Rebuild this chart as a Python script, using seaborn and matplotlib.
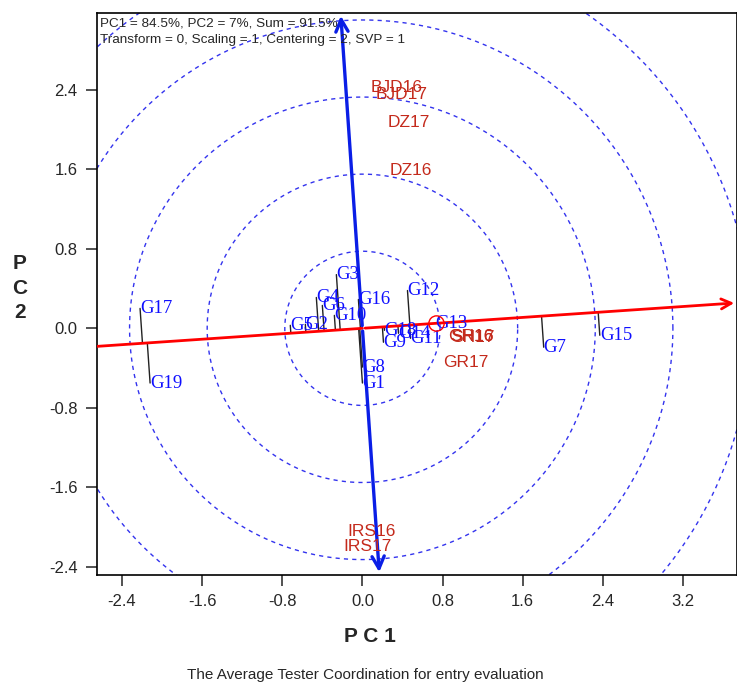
import numpy as np
import pandas as pd
import matplotlib
matplotlib.use("Agg")
import matplotlib.pyplot as plt
import seaborn as sns

# genotype scores (PC1, PC2)
genotypes = ["G1", "G2", "G3", "G4", "G5", "G6", "G7", "G8", "G9", "G10",
             "G11", "G12", "G13", "G14", "G15", "G16", "G17", "G18", "G19"]
g_pc1 = [0.00, -0.57, -0.26, -0.46, -0.72, -0.40, 1.81, 0.00, 0.21, -0.28,
         0.48, 0.45, 0.73, 0.36, 2.37, -0.04, -2.22, 0.22, -2.12]
g_pc2 = [-0.55, 0.04, 0.54, 0.31, 0.03, 0.23, -0.19, -0.39, -0.14, 0.13,
         -0.10, 0.38, 0.05, -0.05, -0.07, 0.29, 0.20, -0.02, -0.55]

# environment (tester) scores
environments = ["BJD16", "BJD17", "DZ17", "DZ16", "GR17", "GR16", "SH17", "SH16", "IRS16", "IRS17"]
e_pc1 = [0.08, 0.13, 0.25, 0.27, 0.81, 0.86, 0.89, 0.88, -0.15, -0.19]
e_pc2 = [2.42, 2.35, 2.07, 1.59, -0.34, -0.08, -0.09, -0.08, -2.04, -2.19]

# average environment coordinate
aec = [0.73, 0.05]
circle_radii = [0.775, 1.55, 2.325, 3.10, 3.875]

summary = ["PC1 = 84.5%, PC2 = 7%, Sum = 91.5%",
           "Transform = 0, Scaling = 1, Centering = 2, SVP = 1"]

sns.set_style("ticks")
plt.rcParams["font.family"] = ["Liberation Sans", "DejaVu Sans"]

fig = plt.figure(figsize=(7.37, 6.87), dpi=100)
ax = fig.add_axes([97 / 737, 1 - 575 / 687, 640 / 737, 562 / 687])
xlim = (-2.65, 3.74)
ylim = (-2.48, 3.17)

# concentric circles
t = np.linspace(0, 2 * np.pi, 400)
for r in circle_radii:
    cdf = pd.DataFrame({"x": r * np.cos(t), "y": r * np.sin(t)})
    sns.lineplot(data=cdf, x="x", y="y", sort=False, estimator=None, errorbar=None,
                 ax=ax, color="#3333ee", lw=1.0, linestyle=(0, (3, 3)), zorder=1)

# ATC abscissa (red) and ordinate (blue)
d = np.array(aec) / np.hypot(*aec)
p = np.array([-d[1], d[0]])
ax.plot([xlim[0], 0], [xlim[0] * d[1] / d[0], 0], color="red", lw=2, zorder=3)
ax.annotate("", xy=(xlim[1], xlim[1] * d[1] / d[0]), xytext=(0, 0),
            arrowprops=dict(arrowstyle="->", color="red", lw=2, mutation_scale=18),
            zorder=3, annotation_clip=False)
for yy in ylim:
    ax.annotate("", xy=(yy * p[0] / p[1], yy), xytext=(0, 0),
                arrowprops=dict(arrowstyle="->", color="#0a1ee6", lw=2.4, mutation_scale=22),
                zorder=4, annotation_clip=False)

# projections of genotypes onto ATC abscissa
gdf = pd.DataFrame({"name": genotypes, "x": g_pc1, "y": g_pc2})
for _, row in gdf.iterrows():
    s = row.x * d[0] + row.y * d[1]
    ax.plot([row.x, s * d[0]], [row.y, s * d[1]], color="#222222", lw=1.0, zorder=2)
    ax.text(row.x, row.y, row["name"], color="#1010ff", fontsize=13.5,
            family="Liberation Serif", ha="left", va="center", zorder=5)

edf = pd.DataFrame({"name": environments, "x": e_pc1, "y": e_pc2})
for _, row in edf.iterrows():
    ax.text(row.x, row.y, row["name"], color="#c42a1c", fontsize=12.5,
            ha="left", va="center", zorder=5)

ax.plot(aec[0], aec[1], marker="o", ms=11, mfc="none", mec="red", mew=1.0, zorder=6)

ax.text(0.004, 0.992, "\n".join(summary), transform=ax.transAxes, fontsize=9.7,
        ha="left", va="top", linespacing=1.45, zorder=7)

ax.set_xlim(xlim)
ax.set_ylim(ylim)
ticks_x = [-2.4, -1.6, -0.8, 0.0, 0.8, 1.6, 2.4, 3.2]
ticks_y = [-2.4, -1.6, -0.8, 0.0, 0.8, 1.6, 2.4]
ax.set_xticks(ticks_x)
ax.set_xticklabels([f"{v:.1f}" for v in ticks_x])
ax.set_yticks(ticks_y)
ax.set_yticklabels([f"{v:.1f}" for v in ticks_y])
ax.tick_params(length=8, width=1.3, color="#444444", labelsize=12, pad=6)
for sp in ax.spines.values():
    sp.set_color("black")
    sp.set_linewidth(1.2)
ax.set_xlabel("")
ax.set_ylabel("")

fig.text(370 / 737, 1 - 637 / 687, "P C 1", fontsize=15, fontweight="bold",
         ha="center", va="center")
fig.text(20 / 737, 1 - 288 / 687, "P\nC\n2", fontsize=15, fontweight="bold",
         ha="center", va="center", linespacing=1.35)
fig.text(365 / 737, 1 - 675 / 687, "The Average Tester Coordination for entry evaluation",
         fontsize=11, ha="center", va="center")

fig.savefig("out.png", dpi=100)
